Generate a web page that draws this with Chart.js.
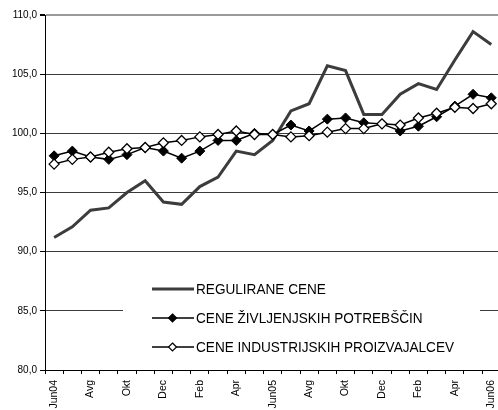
<!DOCTYPE html>
<html>
<head>
<meta charset="utf-8">
<script src="https://cdn.jsdelivr.net/npm/chart.js@4"></script>
<style>
    html, body { margin: 0; padding: 0; background: #fff; overflow: hidden; }
    #wrap { width: 510px; height: 425px; }
</style>
</head>
<body>
<div id="wrap"><canvas id="chart" width="510" height="425"></canvas></div>
<script>
// Months Jun04 .. Jun06
const months = ['Jun04','Jul','Avg','Sep','Okt','Nov','Dec','Jan','Feb','Mar','Apr','Maj',
                'Jun05','Jul','Avg','Sep','Okt','Nov','Dec','Jan','Feb','Mar','Apr','Maj','Jun06'];

const seriesNames = ['REGULIRANE CENE', 'CENE ŽIVLJENJSKIH POTREBŠČIN', 'CENE INDUSTRIJSKIH PROIZVAJALCEV'];

const regulirane = [91.2, 92.1, 93.5, 93.7, 95.0, 96.0, 94.2, 94.0, 95.5, 96.3, 98.5, 98.2,
                    99.4, 101.9, 102.5, 105.7, 105.3, 101.6, 101.6, 103.3, 104.2, 103.7, 106.2, 108.6, 107.5];
const zivljenjske = [98.1, 98.5, 98.0, 97.8, 98.2, 98.8, 98.5, 97.9, 98.5, 99.4, 99.4, 100.0,
                     99.9, 100.7, 100.2, 101.2, 101.3, 100.9, 100.8, 100.2, 100.6, 101.4, 102.3, 103.3, 103.0];
const industrijske = [97.4, 97.8, 98.0, 98.4, 98.7, 98.8, 99.2, 99.4, 99.7, 99.9, 100.2, 99.9,
                      99.9, 99.7, 99.8, 100.1, 100.4, 100.4, 100.8, 100.7, 101.3, 101.7, 102.2, 102.1, 102.5];

const yMin = 80, yMax = 110, yStep = 5;

const fmt = v => v.toFixed(1).replace('.', ',');

// Legend drawn inside the plot, on a white box that hides the 85 gridline
const legendBox = {
    id: 'legendBox',
    afterDatasetsDraw(chart) {
        const ctx = chart.ctx;
        ctx.save();
        ctx.fillStyle = '#fff';
        ctx.fillRect(123, 274, 357, 86);

        const rows = [289, 318, 347];
        chart.data.datasets.forEach((ds, i) => {
            const y = rows[i];
            ctx.strokeStyle = ds.borderColor;
            ctx.lineWidth = ds.borderWidth;
            ctx.beginPath();
            ctx.moveTo(152, y);
            ctx.lineTo(194, y);
            ctx.stroke();

            if (ds.pointRadius > 0) {
                const r = 4;
                ctx.beginPath();
                ctx.moveTo(172.5, y - r);
                ctx.lineTo(172.5 + r, y);
                ctx.lineTo(172.5, y + r);
                ctx.lineTo(172.5 - r, y);
                ctx.closePath();
                ctx.fillStyle = ds.pointBackgroundColor;
                ctx.fill();
                ctx.lineWidth = 1.2;
                ctx.strokeStyle = '#000';
                ctx.stroke();
            }

            // text is a little taller than it is wide in the original
            ctx.save();
            ctx.translate(196, y + 0.5);
            ctx.scale(1, 1.13);
            ctx.fillStyle = '#000';
            ctx.font = '13.6px "Liberation Sans", Arial, sans-serif';
            ctx.textBaseline = 'middle';
            ctx.textAlign = 'left';
            ctx.fillText(ds.label, 0, 0);
            ctx.restore();
        });
        ctx.restore();
    }
};

new Chart(document.getElementById('chart'), {
    type: 'line',
    data: {
        labels: months,
        datasets: [
            {
                label: seriesNames[0],
                data: regulirane,
                borderColor: '#3c3c3c',
                borderWidth: 3,
                pointRadius: 0,
                tension: 0,
                order: 2
            },
            {
                label: seriesNames[1],
                data: zivljenjske,
                borderColor: '#000',
                borderWidth: 1.5,
                pointStyle: 'rectRot',
                pointRadius: 5,
                pointBackgroundColor: '#000',
                pointBorderColor: '#000',
                pointBorderWidth: 1,
                tension: 0,
                order: 1
            },
            {
                label: seriesNames[2],
                data: industrijske,
                borderColor: '#000',
                borderWidth: 1.5,
                pointStyle: 'rectRot',
                pointRadius: 5,
                pointBackgroundColor: '#fff',
                pointBorderColor: '#000',
                pointBorderWidth: 1.3,
                tension: 0,
                order: 0
            }
        ]
    },
    options: {
        responsive: false,
        animation: false,
        layout: { padding: { top: 15, right: 6, left: 0, bottom: 0 } },
        plugins: {
            legend: { display: false },
            tooltip: { enabled: false }
        },
        scales: {
            x: {
                offset: true,
                grid: {
                    offset: true,
                    drawOnChartArea: false,
                    color: '#000',
                    tickLength: 4,
                    tickColor: '#000'
                },
                border: { color: '#000', width: 1 },
                ticks: {
                    autoSkip: false,
                    maxRotation: 90,
                    minRotation: 90,
                    padding: 6,
                    color: '#000',
                    font: { family: '"Liberation Sans", Arial, sans-serif', size: 10.5 },
                    callback: (val, i) => i % 2 === 0 ? months[i] : ''
                },
                afterFit: scale => { scale.height = 55; }
            },
            y: {
                min: yMin,
                max: yMax,
                grid: {
                    color: ctx => ctx.tick && ctx.tick.value === yMax ? '#9a9a9a' : '#3a3a3a',
                    lineWidth: ctx => ctx.tick && ctx.tick.value === yMax ? 2 : 1,
                    tickLength: 5,
                    tickColor: '#000'
                },
                border: { color: '#000', width: 1 },
                ticks: {
                    stepSize: yStep,
                    padding: 3,
                    color: '#000',
                    font: { family: '"Liberation Sans", Arial, sans-serif', size: 10 },
                    callback: v => fmt(v)
                },
                afterFit: scale => { scale.width = 45; }
            }
        }
    },
    plugins: [legendBox]
});
</script>
</body>
</html>
